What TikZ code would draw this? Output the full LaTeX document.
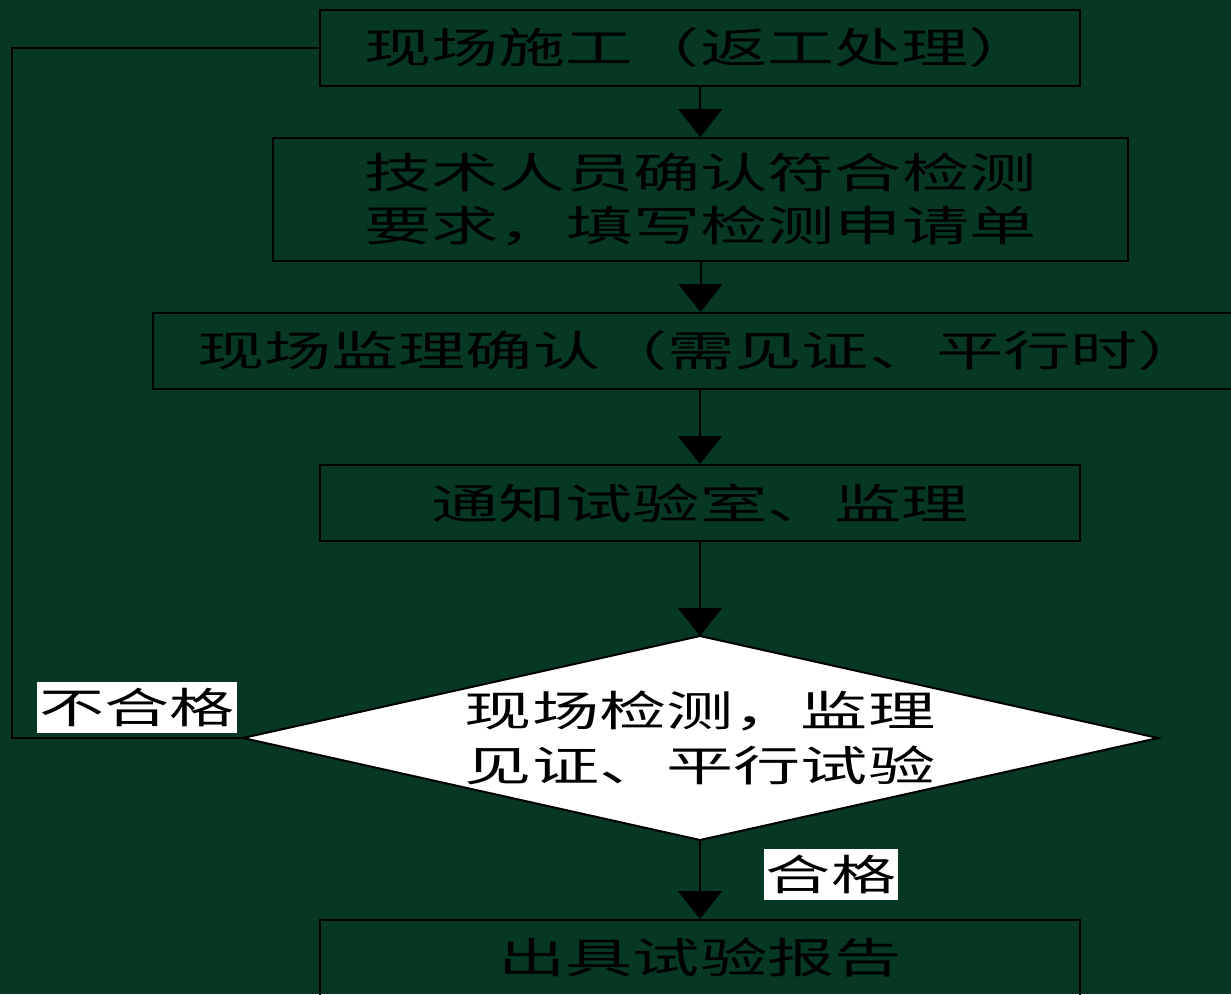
\documentclass[tikz,border=0pt]{standalone}
\usepackage{graphicx}
\usepackage{fontspec}
\setmainfont{Noto Sans CJK SC}
\usetikzlibrary{arrows.meta}
\definecolor{bg}{RGB}{6,56,35}
\newcommand{\W}[1]{\scalebox{1.6}[1]{#1}}
\newcommand{\WL}[1]{\scalebox{1.55}[1]{#1}}
\begin{document}
\begin{tikzpicture}[x=1pt,y=-1pt,
  box/.style={draw=black,line width=2pt,inner sep=0pt,align=center,
    font=\fontsize{42}{53}\selectfont,text=black},
  arr/.style={draw=black,line width=2pt,-{Triangle[width=44pt,length=28pt]}},
  lbl/.style={fill=white,inner sep=0pt,font=\fontsize{42}{53}\selectfont,text=black},
  loopline/.style={draw=black,line width=2pt}]
\fill[bg] (0,0) rectangle (1231,994);
\useasboundingbox (0,0) rectangle (1231,994);
\clip (0,0) rectangle (1231,994);
% boxes
\node[box,minimum width=760pt,minimum height=76pt] (b1) at (700,48) {\W{现场施工（返工处理）}};
\node[box,minimum width=855pt,minimum height=123pt] (b2) at (700.5,199.5) {\W{技术人员确认符合检测}\\\W{要求，填写检测申请单}};
\node[box,minimum width=1082pt,minimum height=76pt] (b3) at (694,351) {\hspace*{14pt}\W{现场监理确认（需见证、平行时）}};
\node[box,minimum width=760pt,minimum height=76pt] (b4) at (700,503) {\W{通知试验室、监理}};
\node[box,minimum width=760pt,minimum height=76pt] (b6) at (700,958) {\W{出具试验报告}};
% decision diamond
\coordinate (dT) at (700,636);
\coordinate (dR) at (1158,738);
\coordinate (dB) at (700,840);
\coordinate (dL) at (243,738);
\filldraw[fill=white,draw=black,line width=2pt] (dT) -- (dR) -- (dB) -- (dL) -- cycle;
\node[align=center,inner sep=0pt,font=\fontsize{42}{55}\selectfont,text=black] (d) at (700,738) {\W{现场检测，监理}\\\W{见证、平行试验}};
% connectors
\draw[arr] (b1) -- (b2);
\draw[arr] (b2) -- (b3.north -| b2.south);
\draw[arr] (b3.south -| b4.north) -- (b4);
\draw[arr] (b4) -- (dT);
\draw[arr] (dB) -- (b6);
\draw[loopline] (dL) -- ++(-231,0) |- (b1.west);
% labels
\node[lbl,minimum width=200pt,minimum height=51pt] (ng) at (137,707.5) {\WL{不合格}};
\node[lbl,minimum width=134pt,minimum height=51pt] (ok) at (831,874.5) {\WL{合格}};
\end{tikzpicture}
\end{document}
